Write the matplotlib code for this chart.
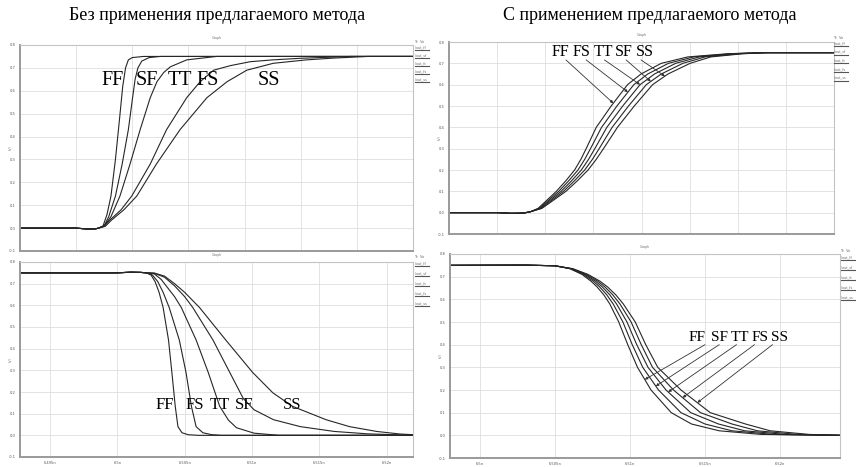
import numpy as np
import matplotlib
matplotlib.use("Agg")
import matplotlib.pyplot as plt
from matplotlib.lines import Line2D

# ---------------- data ----------------
corners = ["FF", "SF", "TT", "FS", "SS"]

# Panel 1: rising edge, without method
p1_ff_t = [0, 1.0, 1.2, 1.35, 1.40, 1.48, 1.55, 1.62, 1.70, 1.77, 1.83, 1.88, 1.93, 2.00, 2.20, 7.0]
p1_ff_v = [0, 0, -0.004, -0.003, 0, 0.01, 0.06, 0.14, 0.30, 0.47, 0.62, 0.70, 0.735, 0.745, 0.75, 0.75]
p1_sf_t = [0, 1.0, 1.2, 1.35, 1.40, 1.50, 1.58, 1.70, 1.82, 1.93, 2.00, 2.05, 2.10, 2.17, 2.30, 2.50, 7.0]
p1_sf_v = [0, 0, -0.004, -0.003, 0, 0.01, 0.05, 0.14, 0.28, 0.43, 0.56, 0.65, 0.70, 0.73, 0.745, 0.75, 0.75]
p1_tt_t = [0, 1.0, 1.2, 1.35, 1.40, 1.50, 1.62, 1.78, 1.96, 2.14, 2.32, 2.44, 2.56, 2.68, 2.97, 3.50, 7.0]
p1_tt_v = [0, 0, -0.004, -0.003, 0, 0.01, 0.05, 0.14, 0.28, 0.43, 0.57, 0.64, 0.68, 0.705, 0.735, 0.75, 0.75]
p1_fs_t = [0, 1.0, 1.2, 1.35, 1.40, 1.50, 1.60, 1.80, 1.99, 2.32, 2.61, 2.97, 3.21, 3.45, 3.75, 4.10, 4.50, 5.00, 5.90, 7.0]
p1_fs_v = [0, 0, -0.004, -0.003, 0, 0.008, 0.035, 0.08, 0.14, 0.28, 0.43, 0.57, 0.64, 0.69, 0.71, 0.727, 0.735, 0.742, 0.75, 0.75]
p1_ss_t = [0, 1.0, 1.2, 1.35, 1.40, 1.52, 1.63, 1.85, 2.08, 2.43, 2.85, 3.33, 3.69, 4.04, 4.51, 5.10, 5.60, 6.20, 7.0]
p1_ss_v = [0, 0, -0.004, -0.003, 0, 0.008, 0.035, 0.08, 0.14, 0.28, 0.43, 0.57, 0.64, 0.69, 0.72, 0.735, 0.743, 0.75, 0.75]

# Panel 2: rising edge, with method (shared voltage samples)
p2_v = [0, 0, -0.003, -0.002, 0.005, 0.02, 0.047, 0.10, 0.15, 0.20, 0.25, 0.30, 0.40, 0.50, 0.60, 0.65, 0.70, 0.73, 0.745, 0.75, 0.75]
p2_ff_t = [0, 1.0, 1.3, 1.55, 1.70, 1.85, 1.98, 2.23, 2.43, 2.61, 2.74, 2.85, 3.06, 3.37, 3.71, 3.99, 4.41, 4.96, 5.79, 6.48, 8.0]
p2_fs_t = [0, 1.0, 1.3, 1.55, 1.70, 1.87, 2.01, 2.28, 2.49, 2.68, 2.82, 2.94, 3.17, 3.49, 3.84, 4.13, 4.56, 5.08, 5.87, 6.50, 8.0]
p2_tt_t = [0, 1.0, 1.3, 1.55, 1.70, 1.89, 2.04, 2.33, 2.55, 2.75, 2.90, 3.03, 3.28, 3.61, 3.97, 4.27, 4.71, 5.20, 5.95, 6.55, 8.0]
p2_sf_t = [0, 1.0, 1.3, 1.55, 1.70, 1.91, 2.07, 2.38, 2.61, 2.82, 2.98, 3.12, 3.39, 3.73, 4.10, 4.41, 4.86, 5.32, 6.03, 6.60, 8.0]
p2_ss_t = [0, 1.0, 1.3, 1.55, 1.70, 1.93, 2.10, 2.43, 2.67, 2.89, 3.06, 3.21, 3.50, 3.85, 4.23, 4.55, 5.01, 5.44, 6.11, 6.65, 8.0]

# Panel 3: falling edge, without method
p3_ff_t = [0.555, 2.0, 2.2, 2.35, 2.43, 2.50, 2.56, 2.62, 2.68, 2.76, 2.81, 2.86, 2.90, 2.96, 3.05, 3.20, 6.39]
p3_ff_v = [0.75, 0.75, 0.753, 0.752, 0.75, 0.74, 0.71, 0.66, 0.59, 0.44, 0.29, 0.134, 0.04, 0.012, 0.003, 0, 0]
p3_fs_t = [0.555, 2.0, 2.2, 2.35, 2.43, 2.52, 2.60, 2.68, 2.77, 2.92, 3.02, 3.10, 3.17, 3.27, 3.40, 3.55, 6.39]
p3_fs_v = [0.75, 0.75, 0.753, 0.752, 0.75, 0.74, 0.71, 0.66, 0.59, 0.44, 0.29, 0.134, 0.04, 0.012, 0.003, 0, 0]
p3_tt_t = [0.555, 2.0, 2.2, 2.35, 2.43, 2.55, 2.65, 2.75, 2.85, 2.95, 3.17, 3.35, 3.52, 3.65, 3.77, 4.03, 4.40, 6.39]
p3_tt_v = [0.75, 0.75, 0.753, 0.752, 0.75, 0.745, 0.72, 0.68, 0.64, 0.59, 0.44, 0.29, 0.134, 0.07, 0.035, 0.01, 0, 0]
p3_sf_t = [0.555, 2.0, 2.2, 2.35, 2.43, 2.55, 2.70, 2.85, 3.00, 3.12, 3.42, 3.67, 3.87, 4.03, 4.32, 4.72, 5.22, 5.71, 6.20, 6.39]
p3_sf_v = [0.75, 0.75, 0.753, 0.752, 0.75, 0.748, 0.73, 0.69, 0.64, 0.59, 0.44, 0.29, 0.17, 0.118, 0.072, 0.04, 0.018, 0.007, 0.002, 0.001]
p3_ss_t = [0.555, 2.0, 2.2, 2.35, 2.43, 2.55, 2.70, 2.85, 3.00, 3.22, 3.61, 4.01, 4.31, 4.60, 5.10, 5.45, 5.85, 6.20, 6.39]
p3_ss_v = [0.75, 0.75, 0.753, 0.752, 0.75, 0.749, 0.735, 0.70, 0.66, 0.59, 0.44, 0.29, 0.196, 0.134, 0.072, 0.04, 0.018, 0.006, 0.003]

# Panel 4: falling edge, with method (shared voltage samples)
p4_v = [0.75, 0.751, 0.748, 0.735, 0.71, 0.68, 0.655, 0.62, 0.58, 0.50, 0.40, 0.30, 0.20, 0.10, 0.05, 0.02, 0.004, 0.0]
p4_ff_t = [0.6, 1.6, 2.0, 2.20, 2.36, 2.48, 2.56, 2.65, 2.73, 2.85, 2.97, 3.10, 3.28, 3.55, 3.82, 4.19, 4.75, 5.8]
p4_sf_t = [0.6, 1.6, 2.0, 2.21, 2.38, 2.51, 2.595, 2.69, 2.775, 2.905, 3.03, 3.17, 3.38, 3.68, 4.00, 4.36, 4.91, 5.8]
p4_tt_t = [0.6, 1.6, 2.0, 2.22, 2.40, 2.54, 2.63, 2.73, 2.82, 2.96, 3.09, 3.24, 3.48, 3.81, 4.18, 4.53, 5.07, 5.8]
p4_fs_t = [0.6, 1.6, 2.0, 2.23, 2.42, 2.57, 2.665, 2.77, 2.865, 3.015, 3.15, 3.30, 3.58, 3.94, 4.36, 4.70, 5.23, 5.8]
p4_ss_t = [0.6, 1.6, 2.0, 2.24, 2.44, 2.60, 2.70, 2.81, 2.91, 3.07, 3.21, 3.37, 3.68, 4.07, 4.54, 4.87, 5.39, 5.8]

y_ticks = [-0.1, 0.0, 0.1, 0.2, 0.3, 0.4, 0.5, 0.6, 0.7, 0.8]
y_tick_labels = ["-0.1", "0.0", "0.1", "0.2", "0.3", "0.4", "0.5", "0.6", "0.7", "0.8"]
p3_xtick_labels = ["6.495n", "6.5n", "6.505n", "6.51n", "6.515n", "6.52n"]
p4_xtick_labels = ["6.5n", "6.505n", "6.51n", "6.515n", "6.52n"]
legend_names = ["/out_ff", "/out_sf", "/out_tt", "/out_fs", "/out_ss"]

title_left = "Без применения предлагаемого метода"
title_right = "С применением предлагаемого метода"

# ---------------- figure ----------------
W, H = 856, 467
fig = plt.figure(figsize=(W / 100, H / 100), dpi=100)
fig.patch.set_facecolor("white")
SERIF = ["Liberation Serif", "DejaVu Serif"]
LINE_C = "#262626"
LINE_W = 0.8


def add_ax(l, t, r, b):
    return fig.add_axes([l / W, 1 - b / H, (r - l) / W, (b - t) / H])


def style(ax, xlim, xticks, xlabels):
    ax.set_xlim(*xlim)
    ax.set_ylim(-0.1, 0.8)
    ax.set_yticks(y_ticks)
    ax.set_yticklabels(y_tick_labels, fontsize=2.6, color="#555555")
    ax.set_xticks(xticks)
    ax.set_xticklabels(xlabels, fontsize=2.6, color="#555555")
    ax.tick_params(length=0, pad=3)
    ax.grid(True, color="#dedede", lw=0.6)
    ax.set_axisbelow(True)
    for s in ("left", "bottom"):
        ax.spines[s].set_color("#9a9a9a")
        ax.spines[s].set_linewidth(1.4)
    for s in ("top", "right"):
        ax.spines[s].set_color("#c4c4c4")
        ax.spines[s].set_linewidth(0.8)


def fig_text(x, y, s, **kw):
    fig.text(x / W, 1 - y / H, s, **kw)


def legend(x, y0, dy):
    fig_text(x, y0 - dy * 0.6, "Tr  Vo", fontsize=2.4, color="#666666", va="center")
    for i, name in enumerate(legend_names):
        yy = y0 + i * dy
        fig_text(x, yy, name, fontsize=2.4, color="#666666", va="center")
        fig.add_artist(Line2D([x / W, (x + 14) / W], [1 - (yy + 3) / H] * 2,
                              color="#555555", lw=0.8, transform=fig.transFigure))


def t_at(t, v, level, i0):
    tt = np.asarray(t[i0:], float)
    vv = np.asarray(v[i0:], float)
    if vv[0] > vv[-1]:
        tt, vv = tt[::-1], vv[::-1]
    return float(np.interp(level, vv, tt))


ARROW = dict(arrowstyle="-|>", color="#333333", lw=0.6, mutation_scale=4, shrinkA=0, shrinkB=0)

# Panel 1
ax1 = add_ax(20, 45, 413, 251)
style(ax1, (0, 7), list(range(1, 7)), [""] * 6)
for t, v in [(p1_ff_t, p1_ff_v), (p1_sf_t, p1_sf_v), (p1_tt_t, p1_tt_v),
             (p1_fs_t, p1_fs_v), (p1_ss_t, p1_ss_v)]:
    ax1.plot(t, v, color=LINE_C, lw=LINE_W)
for name, u in zip(["FF", "SF", "TT", "FS", "SS"], [1.64, 2.26, 2.85, 3.35, 4.44]):
    ax1.text(u, 0.647, name, fontsize=14.5, family=SERIF, ha="center", va="center")

# Panel 2
ax2 = add_ax(449, 42, 834, 234)
style(ax2, (0, 8), list(range(1, 8)), [""] * 7)
p2_curves = {"FF": p2_ff_t, "FS": p2_fs_t, "TT": p2_tt_t, "SF": p2_sf_t, "SS": p2_ss_t}
for t in p2_curves.values():
    ax2.plot(t, p2_v, color=LINE_C, lw=LINE_W)
p2_order = ["FF", "FS", "TT", "SF", "SS"]
p2_lab_u = [2.32, 2.76, 3.20, 3.63, 4.07]
p2_start_u = [2.43, 2.85, 3.23, 3.68, 3.99]
p2_tip_v = [0.513, 0.565, 0.60, 0.615, 0.64]
for name, lu, su, tv in zip(p2_order, p2_lab_u, p2_start_u, p2_tip_v):
    ax2.text(lu, 0.753, name, fontsize=11.5, family=SERIF, ha="center", va="center")
    tu = t_at(p2_curves[name], p2_v, tv, 4)
    ax2.annotate("", xy=(tu, tv), xytext=(su, 0.716), arrowprops=ARROW)

# Panel 3
ax3 = add_ax(20, 262, 413, 457)
style(ax3, (0.555, 6.39), list(range(1, 7)), p3_xtick_labels)
for t, v in [(p3_ff_t, p3_ff_v), (p3_fs_t, p3_fs_v), (p3_tt_t, p3_tt_v),
             (p3_sf_t, p3_sf_v), (p3_ss_t, p3_ss_v)]:
    ax3.plot(t, v, color=LINE_C, lw=LINE_W)
for name, u in zip(["FF", "FS", "TT", "SF", "SS"], [2.70, 3.15, 3.52, 3.88, 4.60]):
    ax3.text(u, 0.142, name, fontsize=12, family=SERIF, ha="center", va="center")

# Panel 4
ax4 = add_ax(450, 254, 840, 458)
style(ax4, (0.6, 5.8), list(range(1, 6)), p4_xtick_labels)
p4_curves = {"FF": p4_ff_t, "SF": p4_sf_t, "TT": p4_tt_t, "FS": p4_fs_t, "SS": p4_ss_t}
for t in p4_curves.values():
    ax4.plot(t, p4_v, color=LINE_C, lw=LINE_W)
p4_order = ["FF", "SF", "TT", "FS", "SS"]
p4_lab_u = [3.89, 4.20, 4.47, 4.735, 4.99]
p4_start_u = [4.00, 4.19, 4.42, 4.66, 4.90]
p4_tip_v = [0.246, 0.217, 0.191, 0.166, 0.144]
for name, lu, su, tv in zip(p4_order, p4_lab_u, p4_start_u, p4_tip_v):
    ax4.text(lu, 0.43, name, fontsize=11, family=SERIF, ha="center", va="center")
    tu = t_at(p4_curves[name], p4_v, tv, 2)
    ax4.annotate("", xy=(tu, tv), xytext=(su, 0.40), arrowprops=ARROW)

# tiny chrome: graph titles, y labels, legends
for (l, t, r, b) in [(20, 45, 413, 251), (449, 42, 834, 234), (20, 262, 413, 457), (450, 254, 840, 458)]:
    fig_text((l + r) / 2, t - 7, "Graph", fontsize=2.4, color="#777777", ha="center", va="center")
    fig_text(l - 9, (t + b) / 2, "(V)", fontsize=2.4, color="#777777", ha="center", va="center", rotation=90)
legend(415, 47, 8)
legend(834, 43, 8.7)
legend(415, 263, 10)
legend(841, 257, 10)

# main titles
fig_text(217, 15, title_left, fontsize=13, family=SERIF, ha="center", va="center")
fig_text(650, 15, title_right, fontsize=13, family=SERIF, ha="center", va="center")

fig.savefig("out.png", dpi=100, facecolor="white")
